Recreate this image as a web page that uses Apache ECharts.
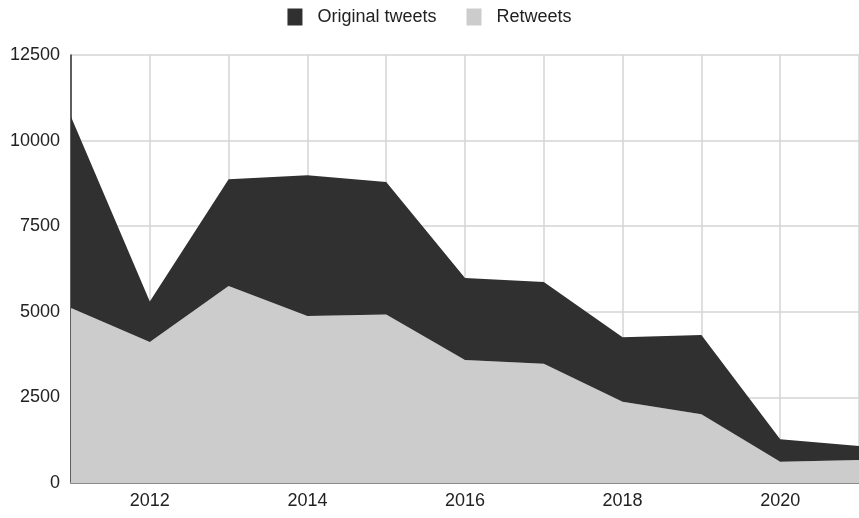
<!DOCTYPE html>
<html>
<head>
<meta charset="UTF-8">
<title>Tweets per year</title>
<script src="https://cdn.jsdelivr.net/npm/echarts@6/dist/echarts.min.js"></script>
<style>
  html, body { margin: 0; padding: 0; background: #fff; }
  #chart { width: 859px; height: 518px; }
</style>
</head>
<body>
<div id="chart"></div>
<script>
  // data
  var years = ['2011', '2012', '2013', '2014', '2015', '2016', '2017', '2018', '2019', '2020', '2021'];
  var retweets = [5110, 4120, 5750, 4880, 4920, 3590, 3480, 2370, 2010, 620, 670];
  var originalTweets = [5590, 1180, 3120, 4110, 3870, 2400, 2390, 1890, 2310, 660, 410];

  var chart = echarts.init(document.getElementById('chart'));
  var font = 'Liberation Sans, Arial, sans-serif';

  chart.setOption({
    animation: false,
    backgroundColor: '#fff',
    textStyle: { fontFamily: font },
    legend: {
      top: 3,
      left: 'center',
      icon: 'rect',
      itemWidth: 15,
      itemHeight: 17,
      itemGap: 30,
      data: ['Original tweets', 'Retweets'],
      textStyle: { fontSize: 18, color: '#222', fontFamily: font, padding: [0, 0, 0, 10] }
    },
    grid: { left: 71, right: 0, top: 55, bottom: 35, containLabel: false },
    xAxis: {
      type: 'category',
      boundaryGap: false,
      data: years,
      axisLine: { lineStyle: { color: '#8a8a8a', width: 2 } },
      axisTick: { show: false },
      axisLabel: {
        color: '#222',
        fontSize: 18,
        margin: 9,
        interval: function (i) { return i % 2 === 1; }
      },
      splitLine: { show: true, interval: 0, lineStyle: { color: '#d4d4d4', width: 1.5 } }
    },
    yAxis: {
      type: 'value',
      min: 0,
      max: 12500,
      interval: 2500,
      axisLine: { show: true, lineStyle: { color: '#333', width: 1.5 } },
      axisTick: { show: false },
      axisLabel: {
        color: '#222',
        fontSize: 18,
        margin: 11,
        formatter: function (v) { return String(v); }
      },
      splitLine: { lineStyle: { color: '#d4d4d4', width: 1.5 } }
    },
    series: [
      {
        name: 'Retweets',
        type: 'line',
        stack: 'total',
        data: retweets,
        symbol: 'none',
        lineStyle: { width: 0 },
        areaStyle: { color: '#cccccc', opacity: 1 },
        itemStyle: { color: '#cccccc' }
      },
      {
        name: 'Original tweets',
        type: 'line',
        stack: 'total',
        data: originalTweets,
        symbol: 'none',
        lineStyle: { width: 0 },
        areaStyle: { color: '#303030', opacity: 1 },
        itemStyle: { color: '#303030' }
      }
    ]
  });

  window.addEventListener('resize', function () {
    chart.resize();
  });
</script>
</body>
</html>
